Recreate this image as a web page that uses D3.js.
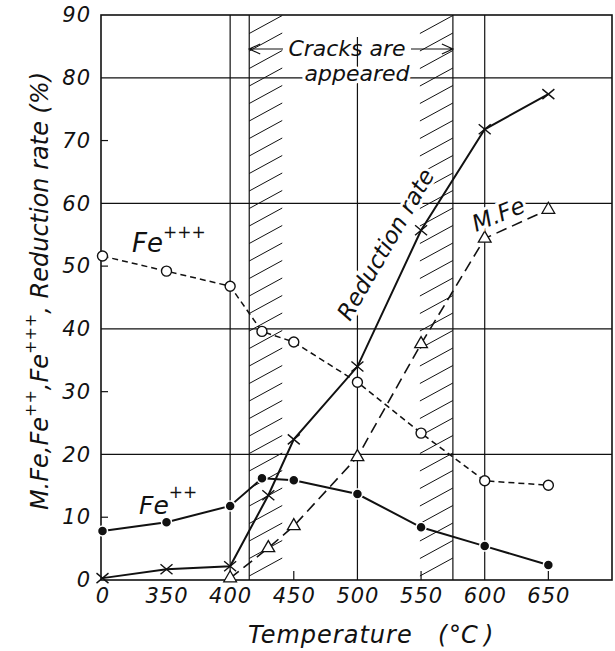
<!DOCTYPE html>
<html>
<head>
<meta charset="utf-8">
<script src="https://cdn.jsdelivr.net/npm/d3@7"></script>
<style>
  body { margin: 0; background: #fff; }
  svg { display: block; }
  text { font-family: "DejaVu Sans", sans-serif; font-style: italic; fill: #111; }
</style>
</head>
<body>
<svg id="chart" width="615" height="651"></svg>
<script>
// values
const feTemps = [0, 350, 400, 425, 450, 500, 550, 600, 650];
const fe3 = [51.6, 49.2, 46.8, 39.6, 37.9, 31.5, 23.4, 15.8, 15.1];
const fe2 = [7.8, 9.2, 11.8, 16.2, 15.9, 13.7, 8.4, 5.4, 2.4];
const redTemps = [0, 350, 400, 430, 450, 500, 550, 600, 650];
const reduction = [0.3, 1.7, 2.2, 13.5, 22.4, 34.0, 55.7, 71.8, 77.4];
const mfeTemps = [400, 430, 450, 500, 550, 600, 650];
const mfe = [0.3, 5.1, 8.6, 19.6, 37.6, 54.4, 59.0];

const xTicks = [0, 350, 400, 450, 500, 550, 600, 650];
const yTicks = [0, 10, 20, 30, 40, 50, 60, 70, 80, 90];
const yGrid = [20, 40, 60, 80];
const yMinor = [10, 30, 50, 70];
const crackZone = [415, 575];

const svg = d3.select('#chart');
const pLeft = 101, pRight = 612, pTop = 15, pBottom = 580;

// broken temperature axis: 0 then 350..700 evenly
const x = d3.scaleLinear().domain([0, 350, 700]).range([102.5, 166.5, pRight]);
const y = d3.scaleLinear().domain([0, 90]).range([pBottom, pTop]);

const ink = '#111';

// hatched crack zone (short strokes along both edges)
const hatch = svg.append('g').attr('stroke', ink).attr('stroke-width', 1);
const xa = x(crackZone[0]), xb = x(crackZone[1]);
for (let yy = pBottom - 4; yy > pTop + 14; yy -= 17.5) {
  hatch.append('line').attr('x1', xa).attr('y1', yy).attr('x2', xa + 33).attr('y2', yy - 18);
  hatch.append('line').attr('x1', xb - 33).attr('y1', yy).attr('x2', xb).attr('y2', yy - 18);
}

// grid
const grid = svg.append('g').attr('stroke', ink).attr('stroke-width', 1.2);
grid.selectAll('.hg').data(yGrid).enter().append('line')
  .attr('x1', pLeft).attr('x2', pRight)
  .attr('y1', d => y(d)).attr('y2', d => y(d));
grid.selectAll('.mt').data(yMinor).enter().append('line')
  .attr('x1', pLeft).attr('x2', pLeft + 7)
  .attr('y1', d => y(d)).attr('y2', d => y(d));
[400, 600].concat(crackZone).forEach(t => {
  grid.append('line').attr('x1', x(t)).attr('x2', x(t)).attr('y1', pTop).attr('y2', pBottom);
});
grid.append('line').attr('x1', x(500)).attr('x2', x(500)).attr('y1', y(86.5)).attr('y2', pBottom);
[450, 550, 650].forEach(t => {
  grid.append('line').attr('x1', x(t)).attr('x2', x(t)).attr('y1', pBottom - 9).attr('y2', pBottom);
});

// frame
svg.append('rect')
  .attr('x', pLeft).attr('y', pTop)
  .attr('width', pRight - pLeft).attr('height', pBottom - pTop)
  .attr('fill', 'none').attr('stroke', ink).attr('stroke-width', 1.6);

// axes
const xAxis = svg.append('g')
  .attr('transform', `translate(0,${pBottom})`)
  .call(d3.axisBottom(x).tickValues(xTicks).tickSize(0).tickPadding(8).tickFormat(d3.format('d')));
xAxis.select('.domain').remove();
xAxis.selectAll('text').style('font-size', '21px').style('letter-spacing', '1px')
  .attr('fill', ink).attr('dy', '0.71em');

const yAxis = svg.append('g')
  .attr('transform', `translate(${pLeft},0)`)
  .call(d3.axisLeft(y).tickValues(yTicks).tickSize(0).tickPadding(10));
yAxis.select('.domain').remove();
yAxis.selectAll('text').style('font-size', '21px').style('letter-spacing', '1px').attr('fill', ink);

// label text with white halo so gridlines break around it
function label(g) {
  return g.attr('stroke', '#fff').attr('stroke-width', 6).attr('paint-order', 'stroke');
}

// series lines
const lineGen = (xs) => d3.line().x((d, i) => x(xs[i])).y(d => y(d));

svg.append('path').datum(fe3)
  .attr('d', lineGen(feTemps))
  .attr('fill', 'none').attr('stroke', ink).attr('stroke-width', 1.5)
  .attr('stroke-dasharray', '6,4');

svg.append('path').datum(fe2)
  .attr('d', lineGen(feTemps))
  .attr('fill', 'none').attr('stroke', ink).attr('stroke-width', 2);

svg.append('path').datum(reduction)
  .attr('d', lineGen(redTemps))
  .attr('fill', 'none').attr('stroke', ink).attr('stroke-width', 2);

svg.append('path').datum(mfe)
  .attr('d', lineGen(mfeTemps))
  .attr('fill', 'none').attr('stroke', ink).attr('stroke-width', 1.6)
  .attr('stroke-dasharray', '11,6');

// markers
svg.append('g').selectAll('circle').data(fe3).enter().append('circle')
  .attr('cx', (d, i) => x(feTemps[i])).attr('cy', d => y(d)).attr('r', 5)
  .attr('fill', '#fff').attr('stroke', ink).attr('stroke-width', 1.4);

svg.append('g').selectAll('circle').data(fe2).enter().append('circle')
  .attr('cx', (d, i) => x(feTemps[i])).attr('cy', d => y(d)).attr('r', 5)
  .attr('fill', ink).attr('stroke', '#fff').attr('stroke-width', 1.5);

svg.append('g').selectAll('path').data(reduction).enter().append('path')
  .attr('transform', (d, i) => `translate(${x(redTemps[i])},${y(d)})`)
  .attr('d', 'M-6,-5L6,5M-6,5L6,-5')
  .attr('stroke', ink).attr('stroke-width', 1.4);

svg.append('g').selectAll('path').data(mfe).enter().append('path')
  .attr('transform', (d, i) => `translate(${x(mfeTemps[i])},${y(d)})`)
  .attr('d', d3.symbol(d3.symbolTriangle, 70))
  .attr('fill', '#fff').attr('stroke', ink).attr('stroke-width', 1.3);

// series labels
const fe3Label = svg.append('text').attr('x', 132).attr('y', 252).style('font-size', '26px');
fe3Label.append('tspan').text('Fe');
fe3Label.append('tspan').attr('dy', -14).style('font-size', '17px').text('+++');

const fe2Label = svg.append('text').attr('x', 139).attr('y', 514).style('font-size', '25px');
fe2Label.append('tspan').text('Fe');
fe2Label.append('tspan').attr('dy', -16).style('font-size', '17px').text('++');

label(svg.append('text'))
  .attr('transform', 'translate(350,322) rotate(-60)')
  .style('font-size', '23px').text('Reduction rate');

label(svg.append('text'))
  .attr('transform', 'translate(476,232) rotate(-22)')
  .style('font-size', '23px').text('M.Fe');

// crack zone annotation
svg.append('text').attr('x', 347).attr('y', 56).attr('text-anchor', 'middle')
  .style('font-size', '22px').text('Cracks are');
label(svg.append('text')).attr('x', 357).attr('y', 81).attr('text-anchor', 'middle')
  .style('font-size', '22px').text('appeared');

const arrows = svg.append('g').attr('stroke', ink).attr('stroke-width', 1.2).attr('fill', 'none');
arrows.append('path').attr('d', `M283,49H${xa}M${xa + 11},44L${xa},49L${xa + 11},54`);
arrows.append('path').attr('d', `M411,49H${xb}M${xb - 11},44L${xb},49L${xb - 11},54`);

// axis titles
const xTitle = svg.append('text').attr('x', 248).attr('y', 643).style('font-size', '24px');
xTitle.append('tspan').style('letter-spacing', '1px').text('Temperature');
xTitle.append('tspan').attr('x', 438).text('(');
xTitle.append('tspan').attr('x', 449).text('°');
xTitle.append('tspan').attr('x', 461).text('C');
xTitle.append('tspan').attr('x', 484).text(')');

const yt = svg.append('text')
  .attr('transform', 'translate(48,291) rotate(-90)')
  .attr('text-anchor', 'middle').style('font-size', '24px');
yt.append('tspan').text('M.Fe,Fe');
yt.append('tspan').attr('dy', -12).style('font-size', '16px').text('++');
yt.append('tspan').attr('dy', 12).text(',Fe');
yt.append('tspan').attr('dy', -12).style('font-size', '16px').text('+++');
yt.append('tspan').attr('dy', 12).text(', Reduction rate (%)');
</script>
</body>
</html>
